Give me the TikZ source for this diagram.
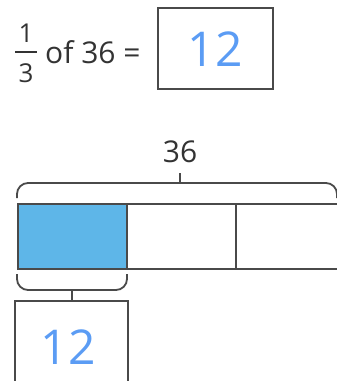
\documentclass[tikz,border=0pt]{standalone}
\usepackage{fontspec}
\setmainfont{Open Sans}
\definecolor{txt}{HTML}{333333}
\definecolor{ln}{HTML}{4A4A4A}
\definecolor{fillblue}{HTML}{5EB6E8}
\definecolor{hand}{HTML}{5B9CF4}
\begin{document}
\begin{tikzpicture}[x=1pt,y=-1pt,
  lbl/.style={text=txt,font=\fontsize{30}{32}\selectfont,inner sep=0pt},
  frac/.style={text=txt,font=\fontsize{26}{28}\selectfont,inner sep=0pt},
  handtxt/.style={text=hand,font=\fontsize{48}{50}\selectfont,inner sep=0pt},
  boxline/.style={draw=ln,line width=1.6pt},
  brace/.style={draw=ln,line width=1.8pt,rounded corners=11pt}]
\useasboundingbox (0,0) rectangle (337,381);
\clip (0,0) rectangle (337,381);
% top equation
\node[frac] (num) at (26,33) {1};
\node[frac] (den) at (26,73) {3};
\draw[txt,line width=1.8pt] (15,52) -- (37,52);
\node[lbl,anchor=base west] (of) at (45,63) {of 36 =};
\draw[boxline] (158,8) rectangle (273,89);
\node[handtxt] (ans) at (215,49) {12};
% top brace
\node[lbl] (total) at (180,152) {36};
\coordinate (ttick) at (180,173);
\draw[brace] (17,198) -- (17,183) -- (337,183) -- (337,198);
\draw[ln,line width=1.8pt] (180,183) -- (ttick);
% tape
\fill[fillblue] (18,204) rectangle (127,269);
\draw[boxline] (18,204) rectangle (350,269);
\draw[boxline] (127,204) -- (127,269);
\draw[boxline] (236,204) -- (236,269);
% bottom brace
\draw[brace] (17,274) -- (17,290) -- (127,290) -- (127,274);
\coordinate (btick) at (72,290);
\draw[boxline] (15,301) rectangle (128,395);
\node[handtxt] (part) at (68,347) {12};
\draw[ln,line width=1.8pt] (btick) -- (72,301);
\end{tikzpicture}
\end{document}
